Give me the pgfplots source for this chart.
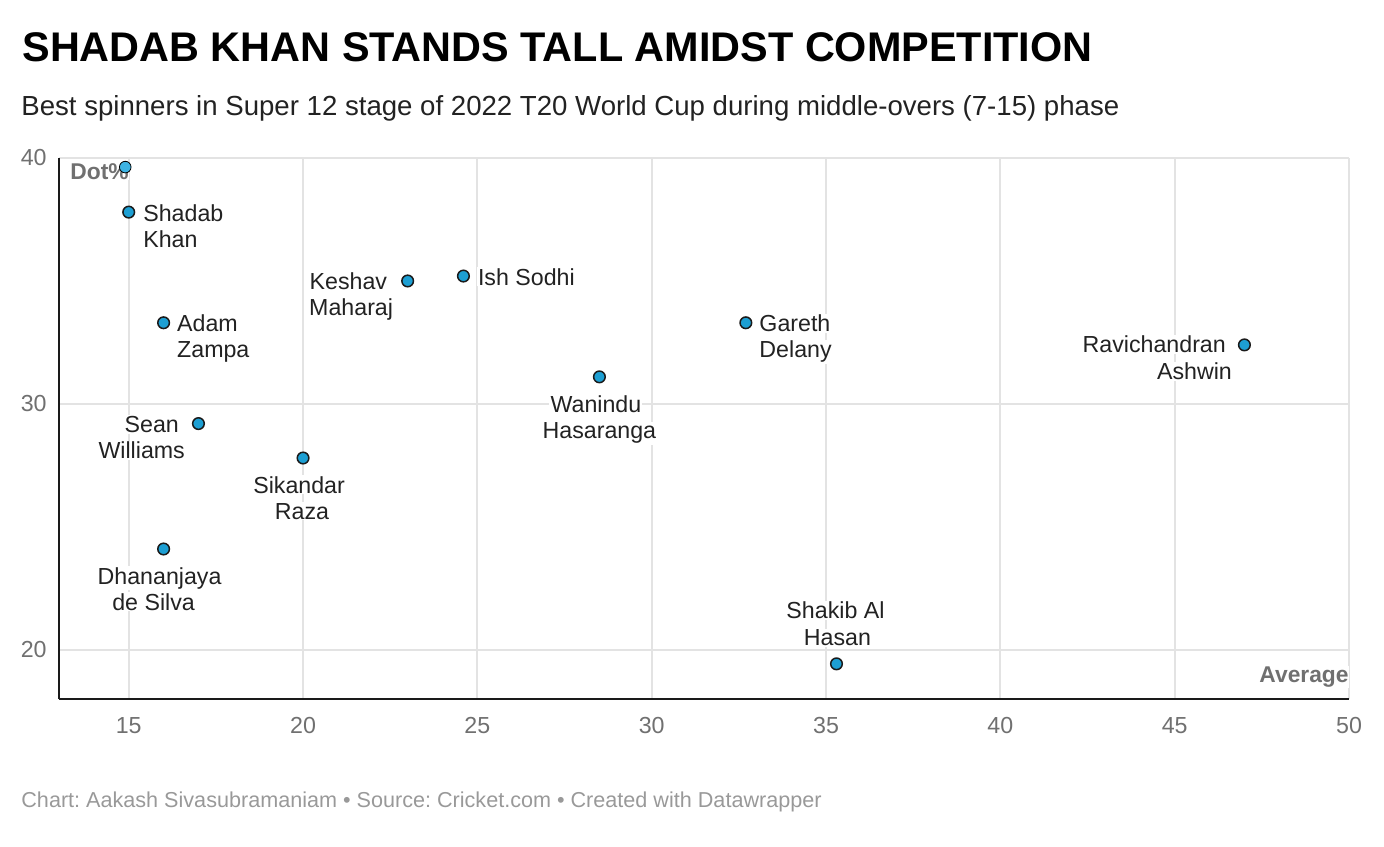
\documentclass[border=0pt]{standalone}
\usepackage{pgfplots}
\pgfplotsset{compat=1.18}
\usepackage{fontspec}
\setmainfont{Liberation Sans}
\frenchspacing

\definecolor{dotblue}{HTML}{1D9FD3}
\definecolor{lightdot}{HTML}{3DB3E3}
\definecolor{gridgray}{HTML}{E3E3E3}
\definecolor{tickgray}{HTML}{707070}
\definecolor{notegray}{HTML}{999999}
\definecolor{axisblack}{HTML}{1A1A1A}
\definecolor{labelblack}{HTML}{222222}

\tikzset{
  lbl/.style={font=\fontsize{11.6}{13}\selectfont, text=labelblack, fill=white, inner sep=0.6pt},
  axnote/.style={font=\fontsize{11.4}{12}\selectfont\bfseries, text=tickgray, fill=white,
    inner xsep=0pt, inner ysep=0.6pt},
}

\begin{document}
\begin{tikzpicture}
\useasboundingbox (0,0) rectangle (692pt,-423pt);

% title, subtitle, footer
\node[anchor=base west, inner sep=0pt, font=\fontsize{20.7}{24}\selectfont\bfseries]
  at (11pt,-30.5pt) {SHADAB KHAN STANDS TALL AMIDST COMPETITION};
\node[anchor=base west, inner sep=0pt, font=\fontsize{13.8}{16}\selectfont, text=labelblack]
  at (10.5pt,-57.5pt) {Best spinners in Super 12 stage of 2022 T20 World Cup during middle-overs (7-15) phase};
\node[anchor=base west, inner sep=0pt, font=\fontsize{10.8}{12}\selectfont, text=notegray]
  at (10.5pt,-403.5pt) {Chart: Aakash Sivasubramaniam • Source: Cricket.com • Created with Datawrapper};

\begin{axis}[
  at={(29.5pt,-79pt)}, anchor=north west,
  scale only axis, width=645pt, height=270.5pt,
  xmin=13, xmax=50, ymin=18, ymax=40,
  xtick={15,20,...,50}, ytick={20,30,40},
  axis lines=left,
  axis line style={-, line width=1pt, color=axisblack},
  grid=major,
  major grid style={line width=1pt, color=gridgray},
  major tick length=0pt,
  tick label style={font=\fontsize{11.6}{13}\selectfont, text=tickgray,
    /pgf/number format/assume math mode=true},
  xticklabel style={anchor=center, inner sep=0pt, yshift=-13.5pt},
  yticklabel style={anchor=east, inner sep=0pt, xshift=-6pt},
]

% average vs dot-ball percentage
\addplot[only marks, mark=*, mark size=2.9pt,
  mark options={fill=dotblue, draw=axisblack, line width=0.75pt}]
  coordinates {
    (15,37.8) (16,33.3) (17,29.2) (20,27.8) (16,24.1) (23,35.0)
    (24.6,35.2) (28.5,31.1) (32.7,33.3) (47,32.4) (35.3,19.43)
  };

\addplot[only marks, mark=*, mark size=2.9pt,
  mark options={fill=lightdot, draw=none}]
  coordinates {(14.9,39.63)};

\node[axnote, anchor=base west, xshift=5.5pt, yshift=-10.5pt] at (rel axis cs:0,1) {Dot\%};
\node[axnote, anchor=base east, yshift=8.3pt] at (rel axis cs:1,0) {Average};

% labels
\node[lbl, anchor=base west, xshift=6.5pt, yshift=-4.5pt] at (axis cs:15,37.8) {Shadab};
\node[lbl, anchor=base west, xshift=6.5pt, yshift=-17.5pt] at (axis cs:15,37.8) {Khan};

\node[lbl, anchor=base west, xshift=6pt, yshift=-4.5pt] at (axis cs:16,33.3) {Adam};
\node[lbl, anchor=base west, xshift=6pt, yshift=-17.5pt] at (axis cs:16,33.3) {Zampa};

\node[lbl, anchor=base east, xshift=-9pt, yshift=-4.5pt] at (axis cs:17,29.2) {Sean};
\node[lbl, anchor=base east, xshift=-6pt, yshift=-17.5pt] at (axis cs:17,29.2) {Williams};

\node[lbl, anchor=base, xshift=-2pt, yshift=-17.5pt] at (axis cs:20,27.8) {Sikandar};
\node[lbl, anchor=base, xshift=-0.5pt, yshift=-30.5pt] at (axis cs:20,27.8) {Raza};

\node[lbl, anchor=base, xshift=-2pt, yshift=-17.5pt] at (axis cs:16,24.1) {Dhananjaya};
\node[lbl, anchor=base, xshift=-5pt, yshift=-30.5pt] at (axis cs:16,24.1) {de Silva};

\node[lbl, anchor=base east, xshift=-9.5pt, yshift=-4.5pt] at (axis cs:23,35.0) {Keshav};
\node[lbl, anchor=base east, xshift=-6.5pt, yshift=-17.5pt] at (axis cs:23,35.0) {Maharaj};

\node[lbl, anchor=base west, xshift=6.5pt, yshift=-4.5pt] at (axis cs:24.6,35.2) {Ish Sodhi};

\node[lbl, anchor=base, xshift=-1.75pt, yshift=-18pt] at (axis cs:28.5,31.1) {Wanindu};
\node[lbl, anchor=base, yshift=-31pt] at (axis cs:28.5,31.1) {Hasaranga};

\node[lbl, anchor=base west, xshift=6pt, yshift=-4.5pt] at (axis cs:32.7,33.3) {Gareth};
\node[lbl, anchor=base west, xshift=6pt, yshift=-17.5pt] at (axis cs:32.7,33.3) {Delany};

\node[lbl, anchor=base east, xshift=-8.5pt, yshift=-4pt] at (axis cs:47,32.4) {Ravichandran};
\node[lbl, anchor=base east, xshift=-5.5pt, yshift=-17.5pt] at (axis cs:47,32.4) {Ashwin};

\node[lbl, anchor=base, xshift=-0.5pt, yshift=22.5pt] at (axis cs:35.3,19.43) {Shakib Al};
\node[lbl, anchor=base, xshift=0.5pt, yshift=9pt] at (axis cs:35.3,19.43) {Hasan};

\end{axis}
\end{tikzpicture}
\end{document}
